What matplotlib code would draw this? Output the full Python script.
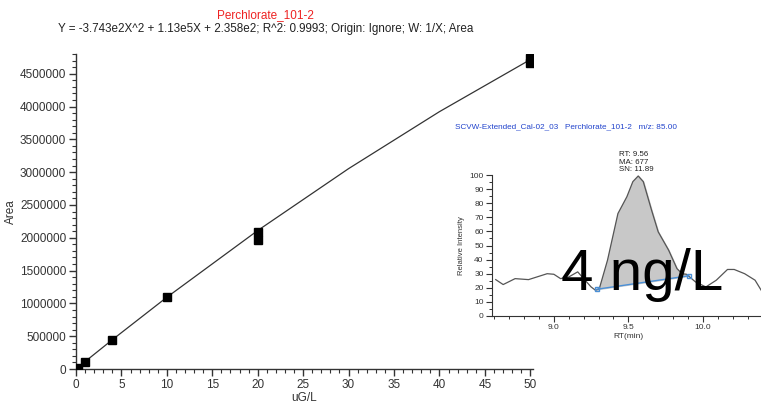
import matplotlib
matplotlib.use("Agg")
import matplotlib.pyplot as plt
import numpy as np
from matplotlib.ticker import MultipleLocator

plt.rcParams['font.family'] = ['Liberation Sans', 'DejaVu Sans']

# Calibration standards
conc = [0.25, 1, 4, 10, 20, 20, 50, 50]
area = [22000, 107000, 442000, 1097000, 2090000, 1970000, 4745000, 4670000]
# Fitted curve
fit_x = [0, 0.25, 1, 4, 10, 20, 30, 40, 50]
fit_y = [236, 28000, 113000, 446000, 1093000, 2110000, 3053000, 3921000, 4714000]

title = "Perchlorate_101-2"
equation = "Y = -3.743e2X^2 + 1.13e5X + 2.358e2; R^2: 0.9993; Origin: Ignore; W: 1/X; Area"

# Inset chromatogram trace
rt = [8.61, 8.66, 8.74, 8.83, 8.955, 9.0, 9.045, 9.10, 9.16, 9.20, 9.25, 9.28, 9.305,
      9.36, 9.43, 9.49, 9.53, 9.566, 9.60, 9.656, 9.70, 9.77, 9.826, 9.86, 9.89,
      9.95, 10.02, 10.09, 10.165, 10.21, 10.28, 10.35, 10.41]
inten = [25.8, 22.3, 26.5, 25.8, 30.0, 29.6, 26.5, 27.7, 31.3, 26.5, 20.6, 18.2, 19.4,
         39.6, 72.7, 84.6, 95.3, 99.3, 95.3, 74.9, 59.7, 46.7, 33.6, 30.0, 29.6,
         24.2, 20.6, 25.4, 33.0, 33.0, 30.0, 25.4, 15.0]
base_rt = [9.29, 9.905]
base_int = [19.0, 28.5]
inset_title = "SCVW-Extended_Cal-02_03   Perchlorate_101-2   m/z: 85.00"
peak_note = "RT: 9.56\nMA: 677\nSN: 11.89"
overlay = "4 ng/L"

W, H = 761, 403
fig = plt.figure(figsize=(W / 100, H / 100), dpi=100)

def ax_rect(l, t, r, b):
    return [l / W, 1 - b / H, (r - l) / W, (b - t) / H]

ax = fig.add_axes(ax_rect(76, 54, 533, 369))
ax.plot(fit_x, fit_y, color='#333333', lw=0.9, zorder=2)
ax.plot(conc, area, ls='none', marker='s', ms=6, color='black', zorder=3)
ax.set_xlim(0, 50.3)
ax.set_ylim(0, 4.8e6)
ax.xaxis.set_major_locator(MultipleLocator(5))
ax.xaxis.set_minor_locator(MultipleLocator(1))
ax.yaxis.set_major_locator(MultipleLocator(500000))
ax.yaxis.set_minor_locator(MultipleLocator(100000))
ax.ticklabel_format(style='plain', axis='y')
for s in ['top', 'right']:
    ax.spines[s].set_visible(False)
for s in ['left', 'bottom']:
    ax.spines[s].set_linewidth(1.0)
    ax.spines[s].set_color('#333333')
ax.tick_params(which='major', length=5, width=1, colors='#333333', labelsize=8.5, labelcolor='#333333', pad=2)
ax.tick_params(which='minor', length=3, width=0.8, colors='#333333')
ax.set_xlabel("uG/L", fontsize=8.5, color='#333333', labelpad=1)
ax.set_ylabel("Area", fontsize=8.5, color='#333333', labelpad=2)

fig.text(265 / W, 1 - 15 / H, title, color='#ee2222', fontsize=8.5, ha='center', va='center')
fig.text(58 / W, 1 - 29 / H, equation, color='#222222', fontsize=8.4, ha='left', va='center')

# Inset
ia = fig.add_axes(ax_rect(492, 175, 764, 316))
ia.set_facecolor('none')
ia.plot(rt, inten, color='#555555', lw=0.9, zorder=3)
rt_a = np.array(rt)
in_a = np.array(inten)
m = (rt_a >= base_rt[0]) & (rt_a <= base_rt[1])
xs = np.concatenate([[base_rt[0]], rt_a[m], [base_rt[1]]])
ys = np.concatenate([[np.interp(base_rt[0], rt_a, in_a)], in_a[m], [np.interp(base_rt[1], rt_a, in_a)]])
bs = np.interp(xs, base_rt, base_int)
ia.fill_between(xs, bs, ys, color='#c8c8c8', zorder=2)
ia.plot(base_rt, base_int, color='#4a8fd6', lw=1.0, marker='s', ms=3.5, mfc='none', mec='#4a8fd6', zorder=4)
ia.set_xlim(8.585, 10.41)
ia.set_ylim(0, 100)
ia.xaxis.set_major_locator(MultipleLocator(0.5))
ia.xaxis.set_minor_locator(MultipleLocator(0.1))
ia.yaxis.set_major_locator(MultipleLocator(10))
ia.yaxis.set_minor_locator(MultipleLocator(5))
ia.xaxis.set_major_formatter(matplotlib.ticker.FormatStrFormatter('%.1f'))
for s in ['top', 'right']:
    ia.spines[s].set_visible(False)
for s in ['left', 'bottom']:
    ia.spines[s].set_linewidth(0.8)
    ia.spines[s].set_color('#333333')
ia.tick_params(which='major', length=4, width=0.8, colors='#333333', labelsize=6, labelcolor='#333333', pad=2)
ia.tick_params(which='minor', length=2.5, width=0.7, colors='#333333')
ia.set_xlabel("RT(min)", fontsize=6, color='#333333', labelpad=1)
ia.set_ylabel("Relative Intensity", fontsize=5.5, color='#333333', labelpad=3)
ia.text(9.44, 101.5, peak_note, fontsize=5.7, color='#222222', ha='left', va='bottom',
        linespacing=1.05, transform=ia.transData)
fig.text(455 / W, 1 - 127 / H, inset_title, color='#2244cc', fontsize=5.9, ha='left', va='center')
fig.text(561 / W, 1 - 290 / H, overlay, color='black', fontsize=42, ha='left', va='baseline')

fig.savefig("out.png", dpi=100)
